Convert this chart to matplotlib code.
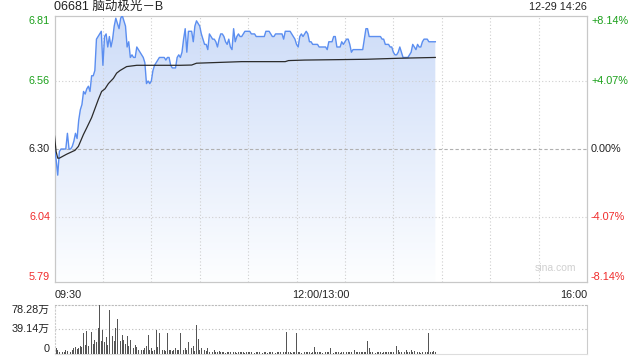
import matplotlib
matplotlib.use('Agg')
import matplotlib.pyplot as plt
import numpy as np
from matplotlib.colors import LinearSegmentedColormap

plt.rcParams['font.family'] = ['Liberation Sans', 'Noto Sans CJK SC', 'DejaVu Sans']

title = "06681 脑动极光－B"
stamp = "12-29 14:26"
prev_close = 6.30
price_ticks = [6.81, 6.56, 6.30, 6.04, 5.79]
price_tick_labels = ['6.81', '6.56', '6.30', '6.04', '5.79']
pct_labels = ['+8.14%', '+4.07%', '0.00%', '-4.07%', '-8.14%']
x_tick_labels = ['09:30', '12:00/13:00', '16:00']
vol_ticks = [78.28, 39.14, 0]
vol_tick_labels = ['78.28万', '39.14万', '0']

# one value per trading minute from 09:30 (minute 0) to 14:26 (minute 236)
price = [
    6.30, 6.26, 6.20, 6.29, 6.30, 6.30, 6.30, 6.30, 6.36, 6.30,
    6.30, 6.31, 6.33, 6.36, 6.34, 6.41, 6.45, 6.47, 6.52, 6.51,
    6.53, 6.54, 6.52, 6.58, 6.58, 6.60, 6.72, 6.73, 6.74, 6.75,
    6.62, 6.73, 6.74, 6.69, 6.73, 6.69, 6.72, 6.77, 6.80, 6.78,
    6.76, 6.80, 6.81, 6.79, 6.77, 6.69, 6.71, 6.65, 6.66, 6.65,
    6.65, 6.69, 6.68, 6.67, 6.66, 6.65, 6.63, 6.55, 6.56, 6.55,
    6.56, 6.60, 6.62, 6.63, 6.64, 6.65, 6.65, 6.65, 6.65, 6.64,
    6.65, 6.65, 6.62, 6.61, 6.61, 6.61, 6.65, 6.66, 6.65, 6.67,
    6.72, 6.76, 6.67, 6.75, 6.75, 6.75, 6.71, 6.77, 6.79, 6.78,
    6.77, 6.74, 6.72, 6.70, 6.70, 6.68, 6.74, 6.73, 6.72, 6.72,
    6.71, 6.69, 6.72, 6.74, 6.74, 6.73, 6.71, 6.70, 6.72, 6.69,
    6.68, 6.76, 6.71, 6.73, 6.74, 6.73, 6.73, 6.74, 6.75, 6.75,
    6.75, 6.75, 6.74, 6.74, 6.74, 6.73, 6.73, 6.73, 6.73, 6.73,
    6.73, 6.75, 6.75, 6.75, 6.74, 6.73, 6.73, 6.74, 6.74, 6.74,
    6.74, 6.74, 6.72, 6.75, 6.75, 6.75, 6.75, 6.74, 6.73, 6.72,
    6.70, 6.69, 6.73, 6.74, 6.73, 6.74, 6.75, 6.74, 6.71, 6.71,
    6.70, 6.70, 6.70, 6.70, 6.69, 6.69, 6.69, 6.69, 6.69, 6.68,
    6.71, 6.71, 6.71, 6.73, 6.73, 6.69, 6.69, 6.69, 6.71, 6.70,
    6.71, 6.72, 6.72, 6.70, 6.67, 6.68, 6.68, 6.68, 6.68, 6.68,
    6.68, 6.68, 6.72, 6.76, 6.76, 6.73, 6.73, 6.73, 6.73, 6.73,
    6.73, 6.73, 6.73, 6.72, 6.72, 6.70, 6.70, 6.70, 6.69, 6.69,
    6.67, 6.66, 6.66, 6.67, 6.69, 6.67, 6.65, 6.65, 6.65, 6.65,
    6.66, 6.67, 6.70, 6.69, 6.68, 6.70, 6.69, 6.69, 6.71, 6.72,
    6.72, 6.72, 6.71, 6.71, 6.71, 6.71, 6.71,
]

# average-price line vertices (minute, price)
avg_minutes = [0, 1, 2, 3, 7.5, 12.7, 14.8, 17.9, 19.9, 23, 25.1, 27.2, 29.2,
               31.3, 33.4, 36.5, 38.5, 40.6, 44.7, 51, 78, 85, 88, 116, 143,
               145, 155, 193, 214, 236]
avg_price = [6.35, 6.29, 6.265, 6.265, 6.28, 6.295, 6.31, 6.355, 6.38, 6.42,
             6.455, 6.49, 6.52, 6.53, 6.55, 6.57, 6.59, 6.60, 6.615, 6.62,
             6.62, 6.621, 6.628, 6.634, 6.634, 6.638, 6.64, 6.643, 6.647, 6.65]

# volume per minute, unit 万 shares
volume = [
    14, 8, 5, 3, 4, 2, 3, 5, 4, 2,
    3, 6, 8, 10, 7, 9, 12, 10, 33, 14,
    36, 12, 20, 34, 15, 21, 18, 40, 78.28, 20,
    37, 18, 27, 14, 69, 20, 28, 20, 40, 55,
    18, 20, 30, 22, 15, 28, 12, 22, 10, 8,
    14, 10, 6, 8, 6, 5, 8, 12, 30, 6,
    8, 4, 6, 38, 10, 33, 8, 5, 6, 4,
    33, 6, 5, 4, 6, 8, 5, 6, 33, 5,
    6, 8, 5, 18, 6, 8, 12, 4, 46, 23,
    6, 8, 5, 6, 4, 8, 3, 2, 3, 5,
    2, 3, 4, 2, 3, 2, 1.5, 2, 3, 2,
    2, 3, 2, 1.5, 2, 3, 2, 2, 1.5, 2,
    2, 3, 2, 2, 1.5, 2, 2, 3, 2, 1.5,
    2, 2, 1.5, 2, 2, 3, 2, 1.5, 2, 2,
    2, 1.5, 2, 3, 35, 2, 2, 1.5, 2, 2,
    33, 2, 2, 1.5, 2, 2, 3, 2, 2, 1.5,
    2, 10, 2, 2, 3, 2, 1.5, 2, 2, 2,
    2, 8, 2, 1.5, 2, 2, 2, 1.5, 2, 2,
    2, 2, 3, 2, 2, 2, 5, 3, 2, 2,
    2, 2, 2, 2, 20, 8, 3, 2, 2, 1.5,
    2, 2, 2, 1.5, 2, 2, 2, 2, 2, 2,
    2, 2, 12, 5, 3, 2, 2, 2, 5, 2,
    2, 5, 2, 4, 32, 2, 2, 1.5, 2, 2,
    2, 2, 32, 2, 2, 4, 2,
]

minutes = np.arange(len(price))
total_minutes = 330
ymin, ymax = 5.79, 6.81

fig = plt.figure(figsize=(6.4, 3.6), dpi=100)
fig.patch.set_facecolor('white')

W, H = 640.0, 360.0
L, R = 54.5, 587.0
ax = fig.add_axes([L / W, 1 - 282.4 / H, (R - L) / W, (282.4 - 15.6) / H])
VT, VB = 304.5, 353.5
axv = fig.add_axes([L / W, 1 - VB / H, (R - L) / W, (VB - VT) / H])

grid_c = '#cfcfcf'
# main axes
ax.set_xlim(0, total_minutes)
ax.set_ylim(ymin, ymax)
for s in ax.spines.values():
    s.set_color('#c8c8c8')
    s.set_linewidth(0.9)
ax.set_xticks([])
ax.set_yticks([])
for m in range(30, total_minutes, 30):
    ax.axvline(m, color=grid_c, lw=0.8, ls=(0, (1, 2)), zorder=3)
for v in [6.56, 6.04]:
    ax.axhline(v, color=grid_c, lw=0.8, ls=(0, (1, 2)), zorder=3)
ax.axhline(prev_close, color='#b0b0b0', lw=0.8, ls=(0, (3, 2)), zorder=3)

# gradient fill under the price line
poly = ax.fill_between(minutes, price, ymin, facecolor='none', edgecolor='none')
cmap = LinearSegmentedColormap.from_list('g', ['#fdfeff', '#cddcf8'])
grad = np.linspace(0, 1, 256).reshape(-1, 1)
im = ax.imshow(grad, extent=[0, minutes[-1], ymin, max(price)], origin='lower',
               aspect='auto', cmap=cmap, zorder=2, interpolation='bilinear')
im.set_clip_path(poly.get_paths()[0], transform=ax.transData)
ax.set_xlim(0, total_minutes)
ax.set_ylim(ymin, ymax)

ax.plot(minutes, price, color='#5b8ef0', lw=1.0, zorder=4)
ax.plot(avg_minutes, avg_price, color='#2b2b2b', lw=0.9, zorder=5)

# y labels
colors = ['#1aa01a', '#1aa01a', '#222222', '#f02b2b', '#f02b2b']
vas = ['top', 'center', 'center', 'center', 'bottom']
for v, lab, pl, c, va in zip(price_ticks, price_tick_labels, pct_labels, colors, vas):
    ax.text(-4.5 / (R - L) * total_minutes, v, lab, ha='right', va=va, color=c,
            fontsize=7.8)
    ax.text(total_minutes + 4 / (R - L) * total_minutes, v, pl, ha='left', va=va,
            color=c, fontsize=7.8)

ax.text(0.979, 0.035, 'sina.com', transform=ax.transAxes, ha='right', va='bottom',
        color='#d0d0d0', fontsize=7.5)

# x labels
fig.text(L / W, 1 - 295 / H, x_tick_labels[0], ha='left', va='center', fontsize=7.8, color='#222222')
fig.text((L + R) / 2 / W, 1 - 295 / H, x_tick_labels[1], ha='center', va='center', fontsize=7.8, color='#222222')
fig.text(R / W, 1 - 295 / H, x_tick_labels[2], ha='right', va='center', fontsize=7.8, color='#222222')

fig.text(L / W, 1 - 7 / H, title, ha='left', va='center', fontsize=9, color='#222222')
fig.text(R / W, 1 - 7 / H, stamp, ha='right', va='center', fontsize=7.8, color='#222222')

# volume axes
axv.set_xlim(0, total_minutes)
axv.set_ylim(0, vol_ticks[0])
axv.bar(minutes, volume, width=0.55, color='#555555', zorder=3)
axv.set_xticks([])
axv.set_yticks([])
axv.spines['top'].set_linestyle((0, (1, 2)))
axv.spines['top'].set_color('#bbbbbb')
axv.spines['left'].set_linestyle((0, (1, 2)))
axv.spines['left'].set_color('#cccccc')
axv.spines['right'].set_color('#cccccc')
axv.spines['bottom'].set_color('#dddddd')
axv.axhline(vol_ticks[1], color='#bbbbbb', lw=0.8, ls=(0, (1, 2)))
vvas = ['top', 'center', 'bottom']
for v, lab, va in zip(vol_ticks, vol_tick_labels, vvas):
    axv.text(-4.5 / (R - L) * total_minutes, v, lab, ha='right', va=va,
             fontsize=7.8, color='#222222')

fig.savefig('out.png', dpi=100)
